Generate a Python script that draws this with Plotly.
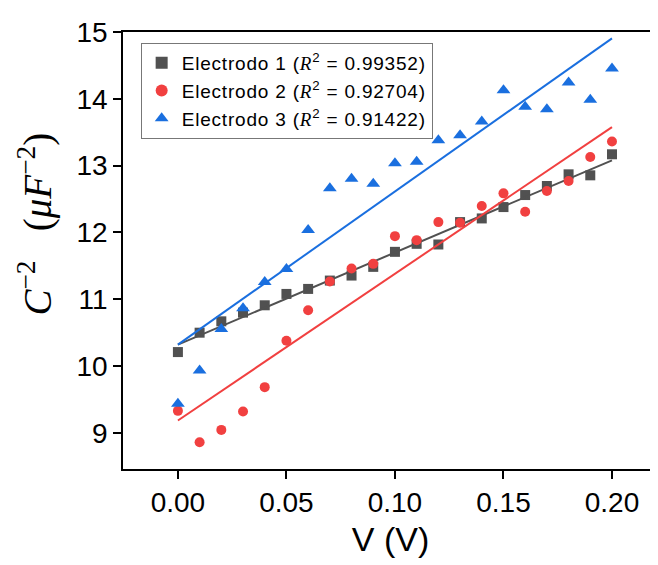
import numpy as np
import plotly.graph_objects as go

voltage = [0.00, 0.01, 0.02, 0.03, 0.04, 0.05, 0.06, 0.07, 0.08, 0.09, 0.10,
           0.11, 0.12, 0.13, 0.14, 0.15, 0.16, 0.17, 0.18, 0.19, 0.20]

electrodo1 = [10.21, 10.50, 10.67, 10.80, 10.91, 11.08, 11.155, 11.28, 11.355, 11.485, 11.71,
              11.83, 11.82, 12.155, 12.21, 12.38, 12.56, 12.695, 12.87, 12.855, 13.17]
electrodo2 = [9.33, 8.86, 9.045, 9.32, 9.685, 10.38, 10.835, 11.265, 11.46, 11.53, 11.945,
              11.885, 12.155, 12.145, 12.395, 12.585, 12.31, 12.62, 12.77, 13.13, 13.36]
electrodo3 = [9.435, 9.935, 10.555, 10.865, 11.26, 11.455, 12.035, 12.66, 12.805, 12.73, 13.035,
              13.06, 13.38, 13.455, 13.66, 14.13, 13.88, 13.845, 14.245, 13.985, 14.455]

names = ["Electrodo 1", "Electrodo 2", "Electrodo 3"]
r2_labels = ["0.99352", "0.92704", "0.91422"]

x_ticks = [0.00, 0.05, 0.10, 0.15, 0.20]
y_ticks = [9, 10, 11, 12, 13, 14, 15]

colors = ["#515151", "#F14040", "#1A6FDF"]
symbols = ["square", "circle", "triangle-up"]
sizes = [10, 10, 12]

fig = go.Figure()
x = np.array(voltage)
for ys, name, r2, col, sym, sz in zip([electrodo1, electrodo2, electrodo3], names, r2_labels,
                                      colors, symbols, sizes):
    label = (f"<span style=\"letter-spacing:0.8px\">{name} ("
             f"<span style=\"font-family:'Liberation Serif';font-style:italic\">R</span>"
             f"<sup>2</sup> = {r2})</span>")
    fig.add_trace(go.Scatter(x=voltage, y=ys, mode="markers", name=label,
                             marker=dict(symbol=sym, size=sz, color=col, line=dict(width=0))))
    m, b = np.polyfit(x, np.array(ys), 1)
    xf = np.array([x.min(), x.max()])
    fig.add_trace(go.Scatter(x=xf, y=m * xf + b, mode="lines", showlegend=False,
                             line=dict(color=col, width=2), hoverinfo="skip"))

fig.update_layout(
    width=658, height=565,
    margin=dict(l=115, r=8, t=24, b=104, autoexpand=False),
    paper_bgcolor="white", plot_bgcolor="white",
    font=dict(family="Liberation Sans, Arial", color="black"),
    legend=dict(x=0.033, y=0.975, xanchor="left", yanchor="top",
                bgcolor="white", bordercolor="#777777", borderwidth=1,
                font=dict(size=19, family="Liberation Sans, Arial", color="black"),
                tracegroupgap=0, itemsizing="constant"),
    xaxis=dict(range=[-0.0253, 0.2212], tickvals=x_ticks,
               ticktext=[f"{v:.2f}" for v in x_ticks], automargin=False,
               showgrid=False, zeroline=False, showline=True, linecolor="black",
               linewidth=1.5, mirror=True, ticks="outside", ticklen=8, tickwidth=1.5,
               tickcolor="black", tickfont=dict(size=28),
               title=dict(text="V (V)", font=dict(size=34), standoff=10)),
    yaxis=dict(range=[8.46, 15.0], tickvals=y_ticks, automargin=False,
               showgrid=False, zeroline=False, showline=True, linecolor="black",
               linewidth=1.5, mirror=False, ticks="outside", ticklen=8, tickwidth=1.5,
               tickcolor="black", tickfont=dict(size=28)),
    annotations=[dict(
        text="<i>C</i><sup>−2</sup>&nbsp;&nbsp;&nbsp;(<i>μF</i><sup>−2</sup>)",
        xref="paper", yref="paper", x=-0.164, y=0.56, xanchor="center", yanchor="middle",
        textangle=-90, showarrow=False,
        font=dict(size=39, family="Liberation Serif, DejaVu Serif", color="black"))],
)

fig.write_html("out.html")
